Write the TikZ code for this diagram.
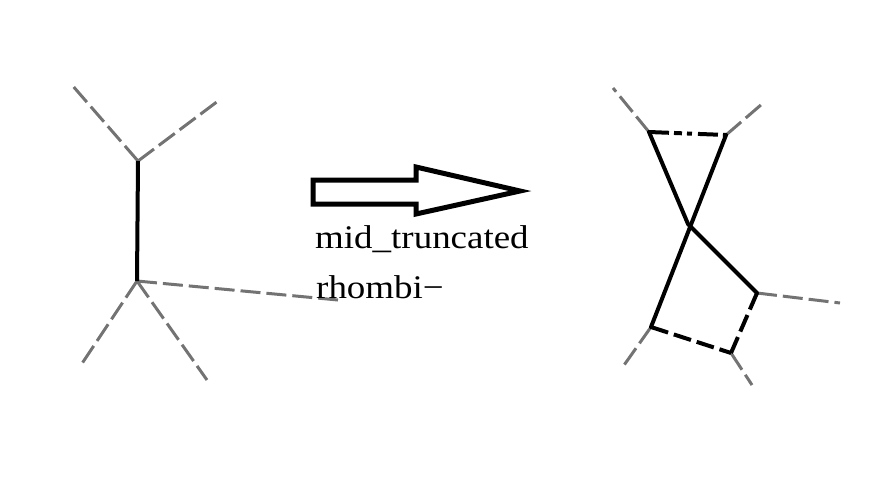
\documentclass[tikz,border=0pt]{standalone}
\usepackage{fontspec}
\setmainfont{Liberation Serif}
\definecolor{edgegray}{RGB}{115,115,115}
\begin{document}
\begin{tikzpicture}[x=1pt,y=-1pt,
  ext/.style={draw=edgegray,line width=3pt,dash pattern=on 20pt off 6pt},
  bond/.style={draw=black,line width=4pt},
  bonddash/.style={draw=black,line width=4pt,dash pattern=on 18pt off 6pt},
  bonddashdot/.style={draw=black,line width=4pt,dash pattern=on 20pt off 5pt on 8pt off 5pt on 5pt off 6pt},
  lbl/.style={anchor=base west,inner sep=0pt,font=\fontsize{33}{40}\selectfont}]
\useasboundingbox (0,0) rectangle (885,488);
% left figure
\coordinate (u) at (138,161);
\coordinate (l) at (137,281);
\coordinate (ul) at (72,85);
\coordinate (ur) at (218,101);
\coordinate (ll) at (81,365);
\coordinate (lr) at (207,380);
\coordinate (r) at (338,300);
\draw[ext] (u) -- (ul);
\draw[ext] (u) -- (ur);
\draw[ext] (l) -- (ll);
\draw[ext] (l) -- (lr);
\draw[ext] (l) -- (r);
\draw[bond] (u) -- (l);
% arrow
\draw[line width=5pt,fill=white,line join=miter]
  (313,180) coordinate (a1) -- (416,180) -- (416,167) -- (520,191) coordinate (tip) -- (416,214) -- (416,204) -- (313,204) -- cycle;
\node[lbl] (t1) at (315,248) {\scalebox{1.12}[1]{mid\_truncated}};
\node[lbl] (t2) at (316,298) {\scalebox{1.12}[1]{rhombi−}};
% right figure
\coordinate (A) at (649,132);
\coordinate (B) at (726,135);
\coordinate (C) at (688,224);
\coordinate (D) at (757,293);
\coordinate (E) at (651,327);
\coordinate (F) at (731,353);
\coordinate (Ao) at (613,88);
\coordinate (Bo) at (762,104);
\coordinate (Do) at (840,303);
\coordinate (Eo) at (622,368);
\coordinate (Fo) at (752,385);
\draw[ext] (A) -- (Ao);
\draw[ext] (B) -- (Bo);
\draw[ext] (D) -- (Do);
\draw[ext] (E) -- (Eo);
\draw[ext] (F) -- (Fo);
\draw[bond,line cap=round] (A) -- (C) -- (D);
\draw[bond,line cap=round] (B) -- (E);
\draw[bonddashdot] (A) -- (B);
\draw[bonddash] (E) -- (F);
\draw[bonddash] (D) -- (F);
\end{tikzpicture}
\end{document}
